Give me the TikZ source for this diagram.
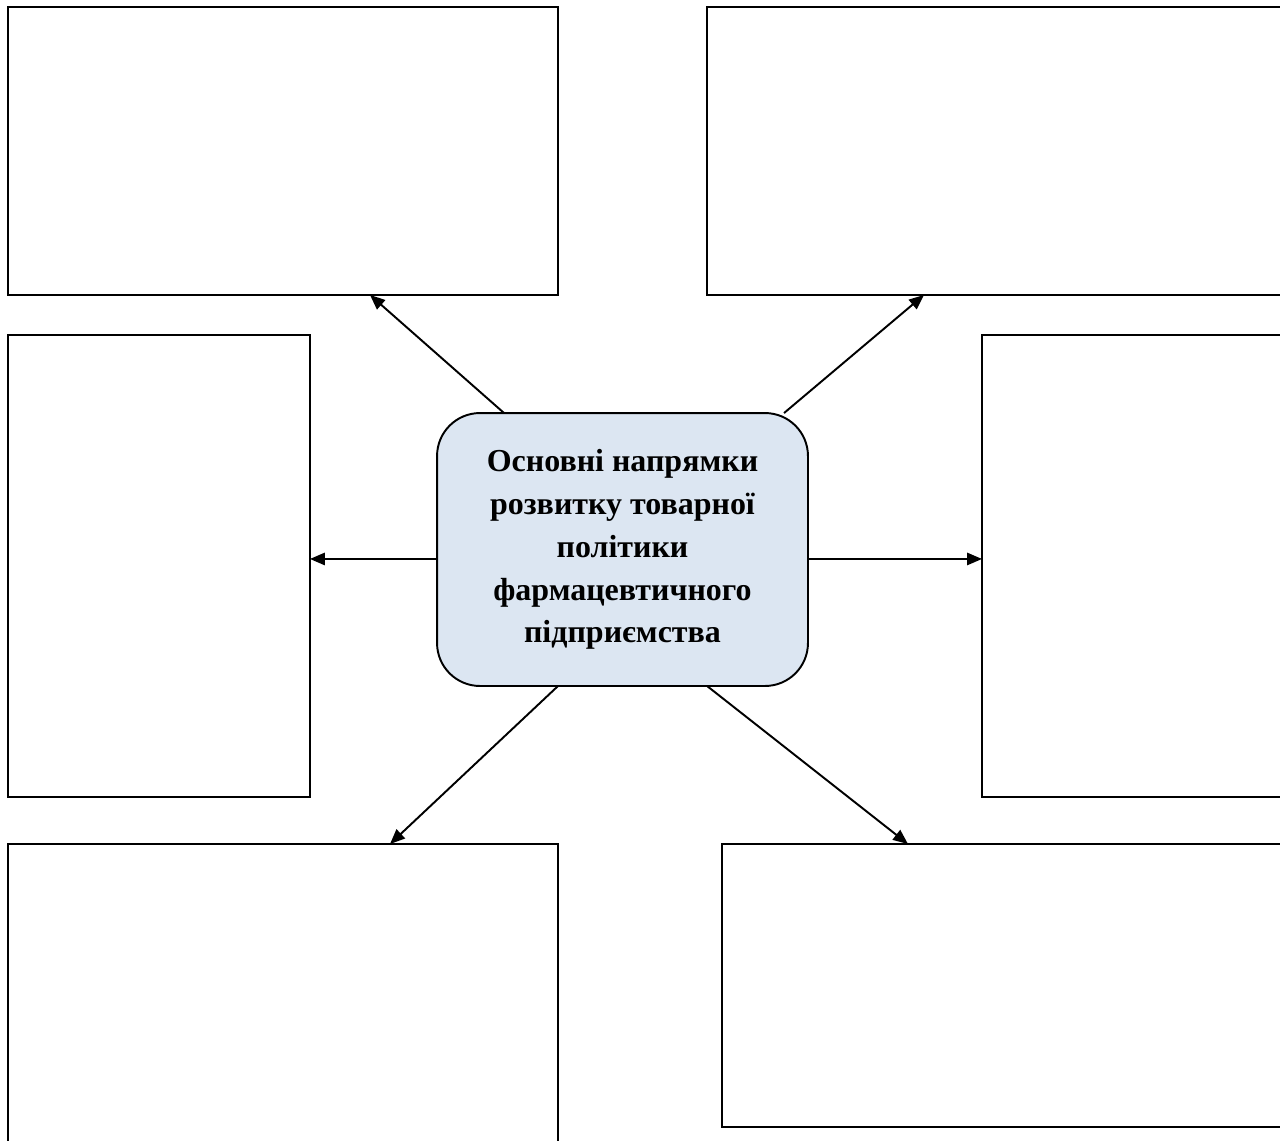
\documentclass[tikz,border=0pt]{standalone}
\usepackage{fontspec}
\setmainfont{Liberation Serif}
\usetikzlibrary{arrows.meta,calc}
\definecolor{centerfill}{HTML}{DCE6F2}
\begin{document}
\begin{tikzpicture}[x=0.02cm,y=-0.02cm,
  box/.style={draw=black, line width=1.1pt, fill=white, inner sep=0pt, outer sep=0pt, anchor=north west},
  hub/.style={draw=black, line width=1.1pt, fill=centerfill, rounded corners=0.86cm, inner sep=0pt, outer sep=0pt,
    minimum width=7.42cm, minimum height=5.46cm, align=center,
    font=\fontsize{18.2pt}{24.4pt}\selectfont\bfseries},
  arr/.style={line width=1.1pt, -{Triangle[length=8.5pt,width=7pt]}}]
\useasboundingbox (0,0) rectangle (1280,1140);
\clip (0,0) rectangle (1280,1140);
\node[box, minimum width=11cm, minimum height=5.76cm] (tl) at (8,7) {};
\node[box, minimum width=11.66cm, minimum height=5.76cm] (tr) at (707,7) {};
\node[box, minimum width=6.04cm, minimum height=9.24cm] (ml) at (8,335) {};
\node[box, minimum width=6.16cm, minimum height=9.24cm] (mr) at (982,335) {};
\node[box, minimum width=11cm, minimum height=6.12cm] (bl) at (8,844) {};
\node[box, minimum width=11.36cm, minimum height=5.66cm] (br) at (722,844) {};
\node[hub] (c) at (622.5,549.5) {Основні напрямки\\розвитку товарної\\політики\\фармацевтичного\\підприємства};
\draw[arr] ($(c.north west)+(67,0)$) -- ($(tl.south west)+(362,0)$);
\draw[arr] ($(c.north west)+(347,0)$) -- ($(tr.south west)+(217,0)$);
\draw[arr] ($(c.west)+(0,9.5)$) -- ($(ml.east)+(0,-7)$);
\draw[arr] ($(c.east)+(0,9.5)$) -- ($(mr.west)+(0,-7)$);
\draw[arr] ($(c.south west)+(121,0)$) -- ($(bl.north west)+(382,0)$);
\draw[arr] ($(c.south west)+(270,0)$) -- ($(br.north west)+(186,0)$);
\end{tikzpicture}
\end{document}
